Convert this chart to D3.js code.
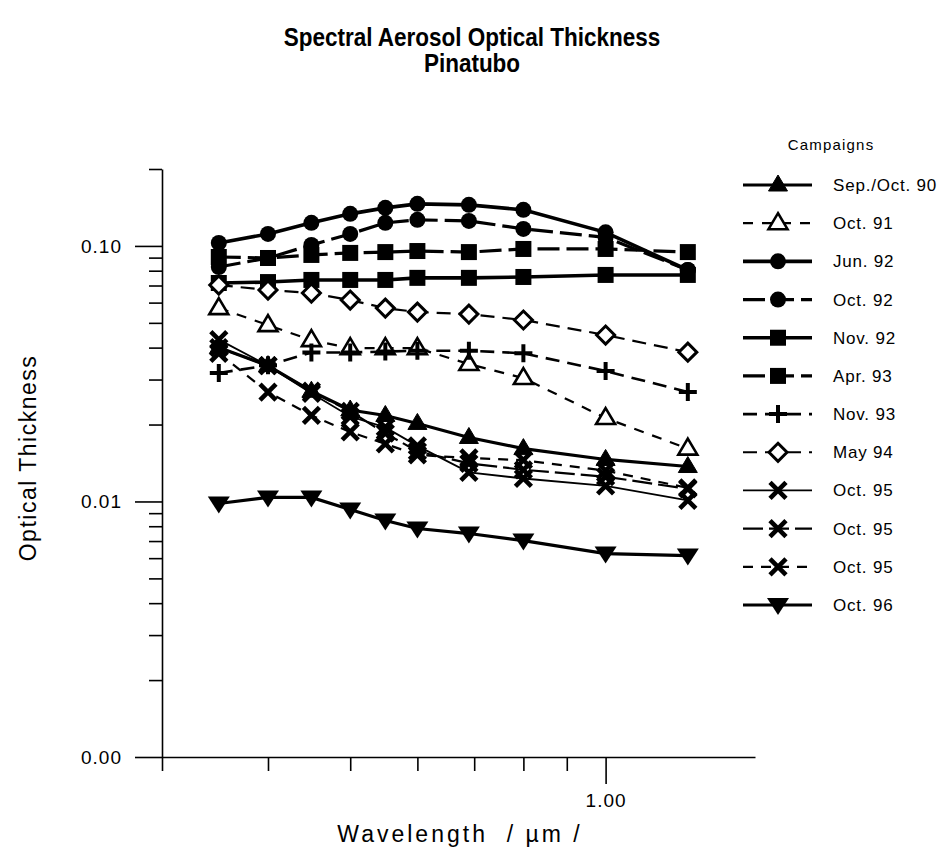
<!DOCTYPE html>
<html>
<head>
<meta charset="utf-8">
<script src="https://cdn.jsdelivr.net/npm/d3@7"></script>
<style>
  html, body { margin: 0; padding: 0; background: #fff; }
  svg { display: block; }
  text { font-family: "Liberation Sans", Arial, Helvetica, sans-serif; fill: #000; }
</style>
</head>
<body>
<svg id="chart" width="942" height="852"></svg>
<script>
// Wavelengths (µm) of the sun photometer channels
const wavelengths = [0.35, 0.40, 0.45, 0.50, 0.55, 0.60, 0.69, 0.80, 1.00, 1.25];

// Aerosol optical thickness per campaign
const sepOct90 = [0.040, 0.034, 0.027, 0.0228, 0.0217, 0.0202, 0.0178, 0.0161, 0.0146, 0.0137];
const oct91    = [0.0571, 0.0490, 0.0428, 0.0398, 0.0398, 0.0398, 0.0345, 0.0304, 0.0212, 0.0161];
const jun92    = [0.1027, 0.1114, 0.1231, 0.1335, 0.1409, 0.1461, 0.1448, 0.1384, 0.113, 0.0805];
const oct92    = [0.0827, 0.0897, 0.1009, 0.1114, 0.1231, 0.1265, 0.1253, 0.1166, 0.108, 0.0805];
const nov92    = [0.0716, 0.0722, 0.0736, 0.0736, 0.0736, 0.0750, 0.0750, 0.0756, 0.0770, 0.0770];
const apr93    = [0.0905, 0.0897, 0.0922, 0.0939, 0.0946, 0.0955, 0.0946, 0.0973, 0.0973, 0.0946];
const nov93    = [0.0318, 0.0341, 0.0383, 0.0383, 0.0386, 0.0389, 0.0389, 0.0380, 0.0324, 0.0268];
const may94    = [0.0703, 0.0672, 0.0654, 0.0614, 0.0571, 0.0551, 0.0541, 0.0513, 0.0448, 0.0384];
const oct95a   = [0.043, 0.034, 0.0265, 0.0215, 0.0195, 0.0165, 0.0130, 0.0123, 0.0115, 0.0101];
const oct95b   = [0.040, 0.034, 0.027, 0.0225, 0.0185, 0.0157, 0.0141, 0.0133, 0.0125, 0.0112];
const oct95c   = [0.038, 0.0268, 0.0217, 0.0187, 0.0168, 0.0152, 0.0148, 0.0145, 0.0132, 0.0113];
const oct96    = [0.00982, 0.01037, 0.01037, 0.0093, 0.00842, 0.00784, 0.00749, 0.00703, 0.00625, 0.00614];

const campaignNames = ["Sep./Oct. 90", "Oct. 91", "Jun. 92", "Oct. 92", "Nov. 92", "Apr. 93",
                       "Nov. 93", "May 94", "Oct. 95", "Oct. 95", "Oct. 95", "Oct. 96"];
const campaignValues = [sepOct90, oct91, jun92, oct92, nov92, apr93, nov93, may94, oct95a, oct95b, oct95c, oct96];

// Tick values
const yMajorTicks = [0.001, 0.01, 0.1];
const yMinorTicks = [0.002, 0.003, 0.004, 0.005, 0.006, 0.007, 0.008, 0.009,
                     0.02, 0.03, 0.04, 0.05, 0.06, 0.07, 0.08, 0.09, 0.2];
const xMajorTicks = [1.0];
const xMinorTicks = [0.3, 0.4, 0.5, 0.6, 0.7, 0.8, 0.9];

// Drawing style of each campaign: marker shape and line pattern
const styles = [
  { marker: "triUp",   fill: true,  width: 3.2, dash: null },
  { marker: "triUp",   fill: false, width: 2.2, dash: "10,9" },
  { marker: "circle",  fill: true,  width: 3.6, dash: null },
  { marker: "circle",  fill: true,  width: 3.2, dash: "22,7" },
  { marker: "square",  fill: true,  width: 3.6, dash: null },
  { marker: "square",  fill: true,  width: 3.2, dash: "22,7" },
  { marker: "plus",    fill: true,  width: 2.6, dash: "14,8" },
  { marker: "diamond", fill: false, width: 2.2, dash: "14,8" },
  { marker: "cross",   fill: true,  width: 1.8, dash: null },
  { marker: "cross",   fill: true,  width: 2.2, dash: "20,6" },
  { marker: "cross",   fill: true,  width: 2.2, dash: "10,8" },
  { marker: "triDown", fill: true,  width: 3.2, dash: null }
];

const series = campaignNames.map((name, i) => ({
  name,
  style: styles[i],
  points: wavelengths.map((w, j) => ({ w, v: campaignValues[i][j] }))
}));

const svg = d3.select("#chart");

const x = d3.scaleLog().domain([0.3, 1.5]).range([162, 755]);
const y = d3.scaleLog().domain([0.001, 0.2]).range([757, 169]);

// Title
const title = svg.append("g").attr("transform", "translate(472,0) scale(0.9,1)");
title.append("text")
  .attr("y", 46).attr("text-anchor", "middle")
  .style("font-size", "25px").style("font-weight", "bold")
  .text("Spectral Aerosol Optical Thickness");
title.append("text")
  .attr("y", 72).attr("text-anchor", "middle")
  .style("font-size", "25px").style("font-weight", "bold")
  .text("Pinatubo");

// Axes
const axisStyle = g => {
  g.select(".domain").attr("stroke", "#000").attr("stroke-width", 1.6);
  g.selectAll(".tick line").attr("stroke", "#000").attr("stroke-width", 1.6);
  g.selectAll(".tick text").style("font-size", "19px").style("letter-spacing", "1px")
    .style("font-family", "'Liberation Sans', Arial, sans-serif").attr("fill", "#000");
};

svg.append("g").attr("transform", "translate(162,0)")
  .call(d3.axisLeft(y).tickValues(yMinorTicks).tickSize(13).tickFormat("").tickSizeOuter(0))
  .call(axisStyle);
svg.append("g").attr("transform", "translate(162,0)")
  .call(d3.axisLeft(y).tickValues(yMajorTicks).tickSize(27).tickPadding(13)
        .tickFormat(d3.format(".2f")).tickSizeOuter(0))
  .call(axisStyle)
  .call(g => g.select(".domain").remove());

svg.append("g").attr("transform", "translate(0,757)")
  .call(d3.axisBottom(x).tickValues(xMinorTicks).tickSize(14).tickFormat("").tickSizeOuter(0))
  .call(axisStyle);
svg.append("g").attr("transform", "translate(0,757)")
  .call(d3.axisBottom(x).tickValues(xMajorTicks).tickSize(27).tickPadding(10)
        .tickFormat(d3.format(".2f")).tickSizeOuter(0))
  .call(axisStyle)
  .call(g => g.select(".domain").remove());

// Axis titles
svg.append("text")
  .attr("transform", "translate(36,458) rotate(-90)")
  .attr("text-anchor", "middle")
  .style("font-size", "23px").style("letter-spacing", "1.5px")
  .text("Optical Thickness");
svg.append("text")
  .attr("x", 460).attr("y", 842).attr("text-anchor", "middle")
  .style("font-size", "23px").style("letter-spacing", "3px")
  .style("white-space", "pre")
  .text("Wavelength  / µm /");

// Marker painter
function drawMarker(g, shape, filled) {
  const fill = filled ? "#000" : "#fff";
  switch (shape) {
    case "circle":
      g.append("circle").attr("r", 8).attr("fill", "#000");
      break;
    case "square":
      g.append("rect").attr("x", -8).attr("y", -8).attr("width", 16).attr("height", 16).attr("fill", "#000");
      break;
    case "triUp":
      g.append("path").attr("d", "M0,-10L9.5,6L-9.5,6Z")
        .attr("fill", fill).attr("stroke", "#000").attr("stroke-width", filled ? 1 : 2.6)
        .attr("stroke-linejoin", "miter");
      break;
    case "triDown":
      g.append("path").attr("d", "M-11,-7L11,-7L0,10Z").attr("fill", "#000");
      break;
    case "diamond":
      g.append("path").attr("d", "M0,-9L9,0L0,9L-9,0Z")
        .attr("fill", "#fff").attr("stroke", "#000").attr("stroke-width", 3);
      break;
    case "plus":
      g.append("path").attr("d", "M-9,0H9M0,-9V9").attr("stroke", "#000").attr("stroke-width", 4);
      break;
    case "cross":
      g.append("path").attr("d", "M-8,-8L8,8M8,-8L-8,8").attr("stroke", "#000").attr("stroke-width", 4.6);
      break;
  }
}

// Lines and markers of each campaign
const line = d3.line().x(d => x(d.w)).y(d => y(d.v));
const plot = svg.append("g");

series.forEach(s => {
  plot.append("path")
    .datum(s.points)
    .attr("d", line)
    .attr("fill", "none")
    .attr("stroke", "#000")
    .attr("stroke-width", s.style.width)
    .attr("stroke-dasharray", s.style.dash);
});
series.forEach(s => {
  plot.selectAll(null)
    .data(s.points)
    .enter().append("g")
    .attr("transform", d => `translate(${x(d.w)},${y(d.v)})`)
    .each(function () { drawMarker(d3.select(this), s.style.marker, s.style.fill); });
});

// Legend
const legend = svg.append("g");
legend.append("text")
  .attr("x", 831).attr("y", 150).attr("text-anchor", "middle")
  .style("font-size", "15px").style("letter-spacing", "1.2px")
  .text("Campaigns");

const rowY = d3.scalePoint().domain(d3.range(series.length)).range([185, 605]);
series.forEach((s, i) => {
  const row = legend.append("g").attr("transform", `translate(0,${rowY(i)})`);
  row.append("line")
    .attr("x1", 743).attr("x2", 812)
    .attr("stroke", "#000")
    .attr("stroke-width", s.style.width)
    .attr("stroke-dasharray", s.style.dash);
  const m = row.append("g").attr("transform", "translate(778,0)");
  drawMarker(m, s.style.marker, s.style.fill);
  row.append("text")
    .attr("x", 833).attr("y", 6)
    .style("font-size", "17px").style("letter-spacing", "0.8px")
    .text(s.name);
});
</script>
</body>
</html>
